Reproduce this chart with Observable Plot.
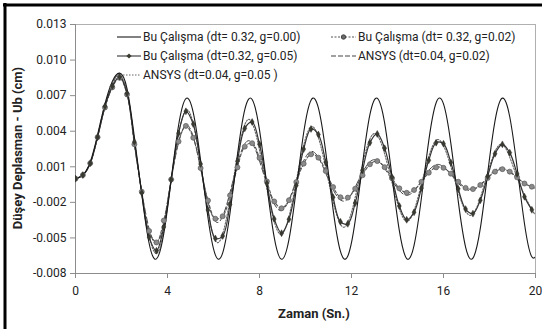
<!DOCTYPE html>
<html>
<head>
<meta charset="utf-8">
<script src="https://cdn.jsdelivr.net/npm/d3@7"></script>
<script src="https://cdn.jsdelivr.net/npm/@observablehq/plot@0.6"></script>
<style>
  html, body { margin: 0; padding: 0; background: #fff; }
  #chart { position: relative; width: 542px; height: 329px; overflow: hidden; }
  svg { display: block; }
</style>
</head>
<body>
<div id="chart"></div>
<script>
// ---- data (displacement in cm, time in s) ----
const dtStudy = 0.32;

const studyG000 = [0, 0.0003, 0.0014, 0.0037, 0.0063, 0.0082, 0.0089, 0.0076, 0.0035, -0.0013,
  -0.00545, -0.00677, -0.00462, -0.0001, 0.00448, 0.00675, 0.00556, 0.00152, -0.0033, -0.00643,
  -0.00626, -0.00288, 0.00198, 0.00582, 0.00668, 0.00411, -0.00057, -0.00496, -0.0068, -0.00515,
  -0.00086, 0.00387, 0.00662, 0.00597, 0.00226, -0.00261, -0.00614, -0.00652, -0.00356, 0.00123,
  0.00539, 0.00678, 0.0047, 0.0002, -0.00439, -0.00674, -0.00562, -0.00163, 0.00321, 0.0064,
  0.0063, 0.00297, -0.00188, -0.00577, -0.0067, -0.0042, 0.00046, 0.00488, 0.00679, 0.00522,
  0.00097, -0.00378, -0.00659, -0.00602];

const studyG005 = [0, 0.0003, 0.0013, 0.0035, 0.0061, 0.0078, 0.0086, 0.0072, 0.0031, -0.0012,
  -0.00493, -0.00608, -0.00407, -0.00008, 0.00383, 0.00568, 0.0046, 0.00123, -0.00264, -0.00504,
  -0.00483, -0.00217, 0.00147, 0.00424, 0.00478, 0.0029, -0.0004, -0.0034, -0.0046, -0.00343,
  -0.00057, 0.00249, 0.00419, 0.00372, 0.00139, -0.00157, -0.00364, -0.00381, -0.00206, 0.0007,
  0.00303, 0.00377, 0.00256, 0.00011, -0.00231, -0.00347, -0.00284, -0.0008, 0.00155, 0.00303,
  0.00294, 0.00136, -0.00085, -0.00257, -0.00295, -0.00183, 0.0002, 0.0021, 0.00289, 0.00219,
  0.0004, -0.00153, -0.00263];

const studyG002 = [0, 0.0003, 0.0013, 0.0035, 0.006, 0.0077, 0.0085, 0.0071, 0.0029, -0.0011,
  -0.00441, -0.00538, -0.00353, -0.00007, 0.00313, 0.00445, 0.00345, 0.00089, -0.00184, -0.00338,
  -0.00317, -0.00141, 0.00095, 0.0027, 0.00299, 0.00175, -0.00023, -0.00192, -0.0025, -0.00182,
  -0.00029, 0.00126, 0.00205, 0.00177, 0.00064, -0.00071, -0.00157, -0.0016, -0.00085, 0.00029,
  0.00121, 0.00148, 0.00097, 0.00004, -0.00082, -0.00119, -0.00096, -0.00027, 0.0005, 0.00095,
  0.00091, 0.00042, -0.00026, -0.00078, -0.00088, -0.00054, 0.00006, 0.00059, 0.0008, 0.00059,
  0.00011, -0.00041, -0.00068];

const ansysT = [0, 0.32, 0.64, 0.96, 1.28, 1.6, 1.84, 2.24, 2.56, 2.79, 3.48, 4.17, 4.86, 5.53,
  6.19, 6.87, 7.54, 8.24, 8.94, 9.62, 10.29, 10.98, 11.67, 12.34, 13.01, 13.72, 14.42, 15.10,
  15.77, 16.47, 17.17, 17.85, 18.52, 19.22, 19.90, 20.0];
const ansysG002 = [0, 0.0003, 0.0013, 0.0035, 0.006, 0.0078, 0.0087, 0.0072, 0.003, 0, -0.0055, 0,
  0.0045, 0, -0.0037, 0, 0.0032, 0, -0.0027, 0, 0.0023, 0, -0.0019, 0, 0.0016, 0, -0.0014, 0,
  0.0012, 0, -0.001, 0, 0.0009, 0, -0.00075, -0.00073];
const ansysG005 = [0, 0.0003, 0.0013, 0.0036, 0.0062, 0.0079, 0.0088, 0.0073, 0.0032, 0, -0.0063, 0,
  0.0058, 0, -0.0054, 0, 0.005, 0, -0.0047, 0, 0.0044, 0, -0.0041, 0, 0.0038, 0, -0.0036, 0,
  0.0033, 0, -0.0031, 0, 0.0029, 0, -0.0028, -0.00273];

const xTicks = [0, 4, 8, 12, 16, 20];
const yTicks = [-0.008, -0.005, -0.002, 0.001, 0.004, 0.007, 0.010, 0.013];

const labels = {
  g000: "Bu Çalışma (dt= 0.32, g=0.00)",
  g002: "Bu Çalışma (dt= 0.32, g=0.02)",
  g005: "Bu Çalışma (dt=0.32, g=0.05)",
  a002: "ANSYS (dt=0.04, g=0.02)",
  a005: "ANSYS (dt=0.04, g=0.05 )"
};
const xTitle = "Zaman (Sn.)";
const yTitle = "Düşey Deplasman - Ub (cm)";

// ---- tables ----
const toRows = (vals, step) => vals.map((v, i) => ({t: +(i * step).toFixed(2), v}));
const s000 = toRows(studyG000, dtStudy);
const s005 = toRows(studyG005, dtStudy);
const s002 = toRows(studyG002, dtStudy);
const a002 = ansysT.map((t, i) => ({t, v: ansysG002[i]}));
const a005 = ansysT.map((t, i) => ({t, v: ansysG005[i]}));

const FONT = "'Liberation Sans Narrow', 'Roboto', 'Liberation Sans', sans-serif";
const AX = "#8c8c8c";

const chart = Plot.plot({
  width: 542,
  height: 329,
  marginLeft: 75,
  marginRight: 7,
  marginTop: 24,
  marginBottom: 56,
  style: {fontFamily: FONT, fontSize: "12px", color: "#222", background: "#fff"},
  x: {domain: [0, 20]},
  y: {domain: [-0.008, 0.013]},
  marks: [
    Plot.ruleY([0.013], {stroke: "#b0b0b0"}),
    Plot.ruleX([20], {stroke: "#b0b0b0", y1: -0.008, y2: 0.013}),
    Plot.axisX({ticks: xTicks, tickSize: 5, tickPadding: 8, stroke: AX, fill: "#222", label: null, tickFormat: d => String(d), fontSize: 12}),
    Plot.axisY({ticks: yTicks, tickSize: 5, tickPadding: 4, stroke: AX, fill: "#222", label: null, tickFormat: d => d.toFixed(3), fontSize: 12}),
    Plot.ruleX([0], {stroke: AX}),
    Plot.ruleY([-0.008], {stroke: AX}),
    Plot.line(a002, {x: "t", y: "v", curve: "natural", stroke: "#444", strokeWidth: 1, strokeDasharray: "6,3", clip: true}),
    Plot.line(a005, {x: "t", y: "v", curve: "natural", stroke: "#666", strokeWidth: 1.1, strokeDasharray: "1.5,1.5", clip: true}),
    Plot.line(s002, {x: "t", y: "v", curve: "catmull-rom", stroke: "#555", strokeWidth: 1.1, strokeDasharray: "3,2", clip: true}),
    Plot.line(s005, {x: "t", y: "v", curve: "catmull-rom", stroke: "#333", strokeWidth: 1.2, clip: true}),
    Plot.line(s000, {x: "t", y: "v", curve: "natural", stroke: "#1a1a1a", strokeWidth: 1.1, clip: true}),
    Plot.dot(s002, {x: "t", y: "v", r: 2.5, fill: "#8a8a8a", stroke: "#5a5a5a", strokeWidth: 0.7, clip: true}),
    Plot.dot(s005, {x: "t", y: "v", r: 2.1, symbol: "diamond", fill: "#3a3a30", stroke: "#222", strokeWidth: 0.4, clip: true})
  ]
});

document.getElementById("chart").appendChild(chart);

// ---- decorations: titles, legend, outer border ----
const svg = d3.select(chart);
svg.append("text").attr("x", 314).attr("y", 318)
  .attr("text-anchor", "middle").attr("font-weight", "bold").attr("font-size", 13)
  .attr("fill", "#222").attr("font-family", FONT).text(xTitle);
svg.append("text").attr("transform", "translate(22,148) rotate(-90)")
  .attr("text-anchor", "middle").attr("font-weight", "bold").attr("font-size", 13)
  .attr("fill", "#222").attr("font-family", FONT).text(yTitle);

const lg = svg.append("g").attr("font-family", FONT).attr("font-size", 12).attr("fill", "#222").attr("text-anchor", "start");
function entry(x0, x1, y, text, dash, stroke, marker) {
  lg.append("line").attr("x1", x0).attr("x2", x1).attr("y1", y).attr("y2", y)
    .attr("stroke", stroke).attr("stroke-width", 1.1).attr("stroke-dasharray", dash || null);
  const cx = (x0 + x1) / 2;
  if (marker === "circle") lg.append("circle").attr("cx", cx).attr("cy", y).attr("r", 2.2).attr("fill", "#6a6a6a").attr("stroke", "#444");
  if (marker === "diamond") lg.append("path").attr("d", `M${cx},${y - 2.6}L${cx + 2.6},${y}L${cx},${y + 2.6}L${cx - 2.6},${y}Z`).attr("fill", "#3a3a30");
  lg.append("text").attr("x", x1 + 2).attr("y", y).attr("dy", "0.35em").attr("text-anchor", "start").text(text);
}
entry(117, 141, 37, labels.g000, null, "#1a1a1a");
entry(117, 141, 56, labels.g005, null, "#333", "diamond");
entry(117, 141, 75, labels.a005, "1.5,1.5", "#666");
entry(331, 356, 37, labels.g002, "2,1.5", "#555", "circle");
entry(331, 356, 56, labels.a002, "5,2", "#444");

svg.append("line").attr("x1", 3).attr("x2", 542).attr("y1", 5).attr("y2", 5).attr("stroke", "#000").attr("stroke-width", 3);
svg.append("line").attr("x1", 5).attr("x2", 5).attr("y1", 3).attr("y2", 329).attr("stroke", "#000").attr("stroke-width", 3);
</script>
</body>
</html>
